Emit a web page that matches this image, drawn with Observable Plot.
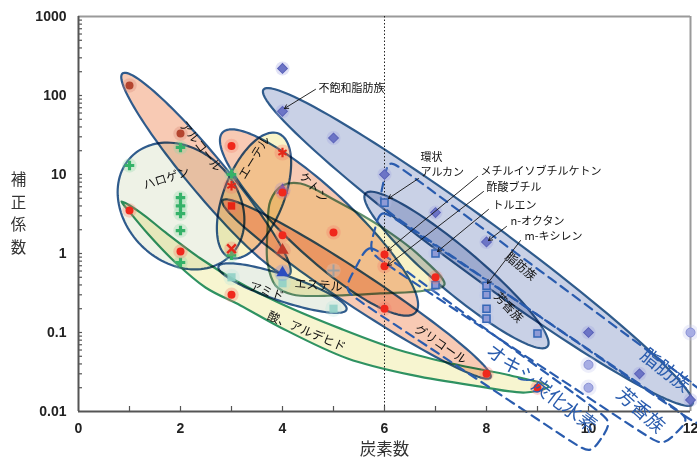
<!DOCTYPE html>
<html>
<head>
<meta charset="utf-8">
<script src="https://cdn.jsdelivr.net/npm/d3@7"></script>
<script src="https://cdn.jsdelivr.net/npm/@observablehq/plot@0.6"></script>
<style>
  body { margin: 0; background: #fff; }
</style>
</head>
<body>
<div id="chart"></div>
<script>
// ---- measured correction factors by carbon number ----
// aliphatic hydrocarbons (diamonds)
const aliphaticC = [4, 4, 5, 6, 7, 8, 10, 11, 12];
const aliphaticK = [220, 63, 29, 10, 3.3, 1.4, 0.1, 0.03, 0.014];
// other alkanes (pale circles)
const alkaneC = [10, 10, 12];
const alkaneK = [0.039, 0.02, 0.1];
// aromatics / cyclic alkane (squares)
const aromaticC = [6, 7, 7, 8, 8, 8, 8, 9];
const aromaticK = [4.4, 1.0, 0.4, 0.39, 0.30, 0.20, 0.15, 0.097];
// oxygenated compounds (red dots)
const oxyC = [3, 2, 1, 3, 4, 5, 6, 6, 6, 7, 8, 9, 4];
const oxyK = [23, 1.06, 3.5, 0.3, 1.7, 1.85, 0.97, 0.69, 0.2, 0.5, 0.03, 0.02, 5.9];
// alcohols
const alcoholC = [1, 2];
const alcoholK = [134, 33];
// ethers
const etherC = [3, 4];
const etherK = [7.2, 19];
const etherXC = [3];
const etherXK = [1.15];
// esters
const esterSqC = [3];
const esterSqK = [4.0];
const esterTriC = [4];
const esterTriK = [1.1];
const esterBlueC = [4];
const esterBlueK = [0.57];
const ketoneTriC = [4];
const ketoneTriK = [6.3];
// halogenated compounds
const halogenC = [1, 2, 2, 2, 2, 2, 2, 3, 3];
const halogenK = [13, 22, 5.1, 4.0, 3.2, 1.95, 0.77, 10, 0.95];
// amides
const amideC = [3, 4, 5];
const amideK = [0.5, 0.42, 0.2];
const miscC = [5];
const miscK = [0.61];

// ---- axis ticks ----
const xTicks = [0, 2, 4, 6, 8, 10, 12];
const xMinor = [1, 3, 5, 7, 9, 11];
const yTicks = [0.01, 0.1, 1, 10, 100, 1000];
const yTickText = ["0.01", "0.1", "1", "10", "100", "1000"];
const yMinor = [];
for (const p of [0.01, 0.1, 1, 10, 100]) for (let m = 2; m <= 9; m++) yMinor.push(+(p * m).toPrecision(3));

// ---- layout ----
const W = 697, H = 461, ML = 78, MR = 7, MT = 16, MB = 50;
const KX = (W - ML - MR) / 12;   // px per carbon number
const KY = (H - MT - MB) / 5;    // px per decade

const table = (xs, ys) => xs.map((x, i) => ({x, y: ys[i]}));
const toUV = ([x, y]) => [x * KX, Math.log10(y) * KY];
const fromUV = ([u, v]) => ({x: u / KX, y: 10 ** (v / KY)});

// ellipse between two tips (data coords) with a half width in px
function ellipse(p, q, b, n = 120) {
  const [u1, v1] = toUV(p), [u2, v2] = toUV(q);
  const cu = (u1 + u2) / 2, cv = (v1 + v2) / 2;
  const a = Math.hypot(u2 - u1, v2 - v1) / 2;
  const ex = (u2 - u1) / (2 * a), ey = (v2 - v1) / (2 * a);
  return d3.range(n).map(i => {
    const t = 2 * Math.PI * i / n, c = Math.cos(t) * a, s = Math.sin(t) * b;
    return fromUV([cu + c * ex - s * ey, cv + c * ey + s * ex]);
  });
}
// quadrilateral with rounded corners
function roundedBox(corners, r = 20) {
  const uv = corners.map(toUV), out = [];
  uv.forEach((c, i) => {
    const prev = uv[(i + uv.length - 1) % uv.length], next = uv[(i + 1) % uv.length];
    const toward = p => {
      const d = Math.hypot(p[0] - c[0], p[1] - c[1]);
      return [c[0] + (p[0] - c[0]) * r / d, c[1] + (p[1] - c[1]) * r / d];
    };
    out.push(toward(prev), c, toward(next));
  });
  return out.map(fromUV);
}
const pairs = list => list.map(([x, y]) => ({x, y}));

// ---- group outlines ----
const blueLine = "#2f5b8c", greenLine = "#2f9262", esterLine = "#5e8f6c";
const salmon = "#f8cab4";
const esterOutline = [[3.706, 1.955], [3.765, 4.69], [4.0, 7.26], [4.353, 7.69], [5.039, 4.69], [5.922, 2.2],
  [6.706, 0.916], [7.176, 0.405], [6.804, 0.34], [5.922, 0.312], [5.039, 0.294], [4.196, 0.303], [3.863, 0.394], [3.706, 0.769]];
const acidOutline = [[0.843, 4.55], [1.216, 3.3], [1.706, 1.845], [2.392, 0.864], [3.078, 0.455], [3.961, 0.233],
  [5.137, 0.112], [6.314, 0.0592], [7.49, 0.0382], [8.471, 0.0286], [9.216, 0.0207], [8.765, 0.0174], [7.882, 0.0207],
  [6.569, 0.0286], [5.275, 0.0469], [3.961, 0.116], [3.176, 0.22], [2.49, 0.371], [1.902, 0.769], [1.373, 1.74], [0.98, 3.5]];

const shapes = [
  {pts: ellipse([1.04, 16.9], [2.98, 0.943], 56), fill: "#eef2e6", stroke: blueLine},        // ハロゲン
  {pts: ellipse([0.863, 190], [4.137, 0.542], 19), fill: salmon, stroke: blueLine},          // アルコール
  {pts: ellipse([2.824, 34], [6.608, 0.179], 33), fill: salmon, stroke: blueLine},           // ケトン
  {pts: ellipse([2.961, 0.89], [3.922, 33], 30), fill: "#f9f4c8", stroke: blueLine},         // エーテル
  {pts: pairs(esterOutline), fill: "#f8f2c6", stroke: esterLine, curve: "catmull-rom-closed"}, // エステル
  {pts: ellipse([2.824, 4.69], [8.078, 0.0269], 17), fill: salmon, stroke: blueLine},        // グリコール
  {pts: ellipse([2.745, 0.684], [5.255, 0.195], 13), fill: "#e9efe6", stroke: blueLine},     // アミド
  {pts: pairs(acidOutline), fill: "#f7f5d0", stroke: greenLine, curve: "catmull-rom-closed"}, // 酸、アルデヒド
  {pts: ellipse([3.627, 119], [12.039, 0.0123], 27), fill: "#c9d1e6", stroke: blueLine},     // 脂肪族
  {pts: ellipse([5.627, 5.75], [9.196, 0.0665], 22), fill: "#c9d1e6", stroke: blueLine}      // 芳香族
];

// dashed class boxes: 脂肪族, 芳香族, オキシ炭化水素
const boxes = [
  [[6.078, 15.94], [12.431, 0.01462], [12.235, 0.0061], [5.882, 4.05]],
  [[5.922, 3.71], [12.0, 0.00815], [11.451, 0.00361], [5.686, 1.03]],
  [[5.686, 1.339], [10.471, 0.00747], [10.039, 0.00286], [5.196, 0.34]]
];

// ---- labels ----
const groupLabels = [
  {x: 2.392, y: 22.6, text: "アルコール", rotate: 52},
  {x: 1.725, y: 8.9, text: "ハロゲン", rotate: -18},
  {x: 3.451, y: 16.4, text: "エーテル", rotate: -58},
  {x: 4.608, y: 6.85, text: "ケトン", rotate: 48},
  {x: 4.706, y: 0.394, text: "エステル", rotate: 4},
  {x: 3.686, y: 0.33, text: "アミド", rotate: 18},
  {x: 4.471, y: 0.103, text: "酸、アルデヒド", rotate: 23},
  {x: 7.098, y: 0.0705, text: "グリコール", rotate: 34},
  {x: 8.667, y: 0.684, text: "脂肪族", rotate: 40},
  {x: 8.431, y: 0.207, text: "芳香族", rotate: 47}
];
const classLabels = [
  {x: 9.078, y: 0.0195, text: "オキシ炭化水素", rotate: 37},
  {x: 11.02, y: 0.0103, text: "芳香族", rotate: 42},
  {x: 11.51, y: 0.0331, text: "脂肪族", rotate: 38}
];
const callouts = [
  {x: 4.706, y: 122.7, text: "不飽和脂肪族", x1: 4.647, y1: 119.6, x2: 4.039, y2: 68.5},
  {x: 6.706, y: 16.4, text: "環状", x1: 6.667, y1: 8.9, x2: 6.078, y2: 4.97},
  {x: 6.706, y: 10.6, text: "アルカン"},
  {x: 7.882, y: 10.9, text: "メチルイソブチルケトン", x1: 7.824, y1: 9.44, x2: 6.059, y2: 1.09},
  {x: 8.0, y: 6.85, text: "酢酸ブチル", x1: 7.941, y1: 6.09, x2: 6.059, y2: 0.705},
  {x: 8.118, y: 4.05, text: "トルエン", x1: 8.039, y1: 3.61, x2: 7.039, y2: 1.06},
  {x: 8.471, y: 2.54, text: "n-オクタン", x1: 8.392, y1: 2.2, x2: 8.039, y2: 1.46},
  {x: 8.745, y: 1.64, text: "m-キシレン", x1: 8.667, y1: 1.46, x2: 8.02, y2: 0.417}
];
const yTitle = ["補", "正", "係", "数"];

const CJK = "'Noto Sans CJK JP', 'Noto Sans', sans-serif";

function glowDots(data, {symbol = "circle", r = 4, fill = "none", stroke = "none", strokeWidth = 1, rotate = 0, glow, opacity = 1}) {
  return [
    Plot.dot(data, {x: "x", y: "y", r: r * 1.8, symbol: "circle", fill: glow, fillOpacity: 0.3, stroke: "none"}),
    Plot.dot(data, {x: "x", y: "y", r, symbol, fill, stroke, strokeWidth, rotate, opacity})
  ];
}

const chart = Plot.plot({
  width: W, height: H,
  marginLeft: ML, marginRight: MR, marginTop: MT, marginBottom: MB,
  style: {fontFamily: "'Liberation Sans', Arial, sans-serif", fontSize: "14px", fontWeight: "bold", color: "#222", background: "#fff"},
  x: {domain: [0, 12], ticks: xTicks, tickSize: 0, tickPadding: 12, label: null},
  y: {type: "log", domain: [0.01, 1000], ticks: yTicks, tickFormat: d => yTickText[yTicks.indexOf(d)], tickSize: 0, tickPadding: 12, label: null},
  marks: [
    // frame
    Plot.ruleY([1000], {stroke: "#9a9a9a", strokeWidth: 2}),
    Plot.ruleX([12], {stroke: "#9a9a9a", strokeWidth: 2}),
    // compound group regions
    ...shapes.map(s => Plot.line(s.pts, {x: "x", y: "y", curve: s.curve ?? "linear-closed",
      fill: s.fill, stroke: s.stroke, strokeWidth: 2.2, mixBlendMode: "multiply"})),
    // carbon number 6 reference
    Plot.ruleX([6], {stroke: "#222", strokeWidth: 1, strokeDasharray: "1.5,2"}),
    // class boxes
    ...boxes.map(b => Plot.line(roundedBox(b), {x: "x", y: "y", curve: "basis-closed",
      stroke: "#2a5cae", strokeWidth: 2.2, strokeDasharray: "9,6", fill: "none"})),
    // axes lines and inward ticks
    Plot.ruleX([0], {stroke: "#555", strokeWidth: 2}),
    Plot.ruleY([0.01], {stroke: "#555", strokeWidth: 2}),
    Plot.ruleX([...xTicks, ...xMinor].filter(d => d > 0 && d < 12), {stroke: "#555", strokeWidth: 1.2, insetTop: H - MT - MB - 5}),
    Plot.ruleY([...yTicks, ...yMinor].filter(d => d > 0.01 && d < 1000), {stroke: "#555", strokeWidth: 1.2, insetRight: W - ML - MR - 4}),
    // measured points
    ...glowDots(table(aliphaticC, aliphaticK), {symbol: "square", rotate: 45, r: 3.9, fill: "#6c74c6", stroke: "#5a62b8", glow: "#9aa0e0"}),
    ...glowDots(table(alkaneC, alkaneK), {r: 4.5, fill: "#a7ade4", stroke: "#8890d4", glow: "#c4c8f0"}),
    ...glowDots(table(aromaticC, aromaticK), {symbol: "square", r: 4, fill: "#8f9ad6", stroke: "#3566b6", strokeWidth: 1.5, glow: "#b8c0ec"}),
    ...glowDots(table(halogenC, halogenK), {symbol: "cross", r: 4, fill: "#34b268", glow: "#8ed8a8"}),
    ...glowDots(table(amideC, amideK), {symbol: "square", r: 4.6, fill: "#90d0c6", glow: "#b8e4de", opacity: 0.9}),
    ...glowDots(table(miscC, miscK), {symbol: "plus", r: 4, stroke: "#a0a0a0", strokeWidth: 2, glow: "#d0d0d0"}),
    ...glowDots(table(ketoneTriC, ketoneTriK), {symbol: "triangle", r: 4.5, fill: "#6a4fb0", glow: "#a090d0"}),
    ...glowDots(table(oxyC, oxyK), {r: 4, fill: "#f0281c", glow: "#f57a6a"}),
    ...glowDots(table(alcoholC, alcoholK), {r: 4, fill: "#b4452f", glow: "#d88070"}),
    ...glowDots(table(etherC, etherK), {symbol: "asterisk", r: 4.5, stroke: "#e4281a", strokeWidth: 2.2, glow: "#f57a6a"}),
    ...glowDots(table(etherXC, etherXK), {symbol: "times", r: 4, stroke: "#e4281a", strokeWidth: 2.5, glow: "#f57a6a"}),
    ...glowDots(table(esterSqC, esterSqK), {symbol: "square", r: 4.2, fill: "#e82414", glow: "#f57a6a"}),
    ...glowDots(table(esterTriC, esterTriK), {symbol: "triangle", r: 4.6, fill: "#c23828", glow: "#e08070"}),
    ...glowDots(table(esterBlueC, esterBlueK), {symbol: "triangle", r: 4.6, fill: "#2c4cc0", glow: "#8090e0"}),
    // callouts
    Plot.arrow(callouts.filter(d => d.x1 !== undefined), {x1: "x1", y1: "y1", x2: "x2", y2: "y2",
      stroke: "#111", strokeWidth: 0.9, headLength: 7}),
    Plot.text(callouts, {x: "x", y: "y", text: "text", textAnchor: "start", fontFamily: CJK,
      fontSize: 11, fontWeight: "normal", fill: "#111"}),
    // group names
    Plot.text(groupLabels, {x: "x", y: "y", text: "text", rotate: "rotate", fontFamily: CJK,
      fontSize: 12, fontWeight: "normal", fill: "#111"}),
    Plot.text(classLabels, {x: "x", y: "y", text: "text", rotate: "rotate", fontFamily: CJK,
      fontSize: 19, fontWeight: "normal", fill: "#2a5cae"}),
    // axis titles
    Plot.text(["炭素数"], {frameAnchor: "bottom", dy: 38, lineAnchor: "middle", textAnchor: "middle", text: d => d,
      fontFamily: CJK, fontSize: 16.5, fontWeight: "normal", fill: "#333"}),
    ...yTitle.map((ch, i) => Plot.text([ch], {frameAnchor: "left", dx: -60, dy: -33.75 + 22.5 * i,
      lineAnchor: "middle", textAnchor: "middle", text: d => d,
      fontFamily: CJK, fontSize: 15.5, fontWeight: "normal", fill: "#333"}))
  ]
});
document.getElementById("chart").append(chart);
</script>
</body>
</html>
